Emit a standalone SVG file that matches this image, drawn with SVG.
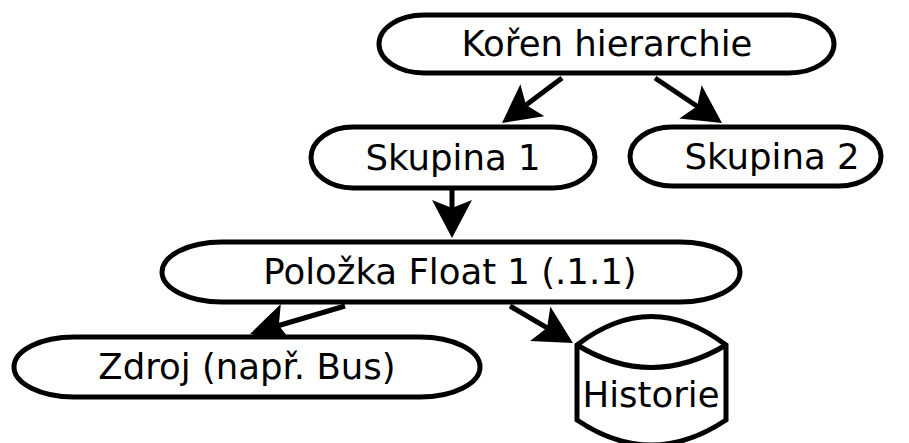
<svg xmlns="http://www.w3.org/2000/svg" width="909" height="443" viewBox="0 0 909 443">
<style>
.n{fill:#fff;stroke:#000;stroke-width:5}
.t{font-family:"DejaVu Sans",sans-serif;font-size:35.5px;text-anchor:middle;fill:#000}
.e{fill:none;stroke:#000;stroke-width:5}
</style>
<defs>
<marker id="ah" markerUnits="userSpaceOnUse" viewBox="0 0 38 40" markerWidth="38" markerHeight="40" refX="8" refY="20" orient="auto">
<path d="M38,20 L0,0 L8,20 L0,40 Z" fill="#000"/>
</marker>
</defs>
<g id="connectors">
<path class="e" d="M562,78 L526,105" marker-end="url(#ah)"/>
<path class="e" d="M655,78 L697.1,106.3" marker-end="url(#ah)"/>
<path class="e" d="M452,190 L452,208" marker-end="url(#ah)"/>
<path class="e" d="M345,306 L278.8,325.5" marker-end="url(#ah)"/>
<path class="e" d="M510,306 L547.1,327.8" marker-end="url(#ah)"/>
</g>
<g id="root">
<rect class="n" x="379" y="15" width="455" height="58" rx="45" ry="29"/>
<text class="t" x="607" y="56">Kořen hierarchie</text>
</g>
<g id="skupina1">
<rect class="n" x="311" y="127" width="284" height="61" rx="42" ry="30.5"/>
<text class="t" x="453" y="170">Skupina 1</text>
</g>
<g id="skupina2">
<rect class="n" x="630" y="127" width="251" height="59" rx="42" ry="29.5"/>
<text class="t" x="772" y="169">Skupina 2</text>
</g>
<g id="polozka">
<rect class="n" x="162" y="242" width="578" height="60" rx="60" ry="30"/>
<text class="t" x="450" y="284">Položka Float 1 (.1.1)</text>
</g>
<g id="zdroj">
<rect class="n" x="14" y="337" width="466" height="60" rx="60" ry="30"/>
<text class="t" x="247" y="379">Zdroj (např. Bus)</text>
</g>
<g id="historie">
<path class="n" d="M577,345 Q651,288 726,345 L726,420 Q651,470 577,420 Z"/>
<path class="e" d="M577,345 Q651,390 726,345"/>
<text class="t" x="651" y="407">Historie</text>
</g>
</svg>
